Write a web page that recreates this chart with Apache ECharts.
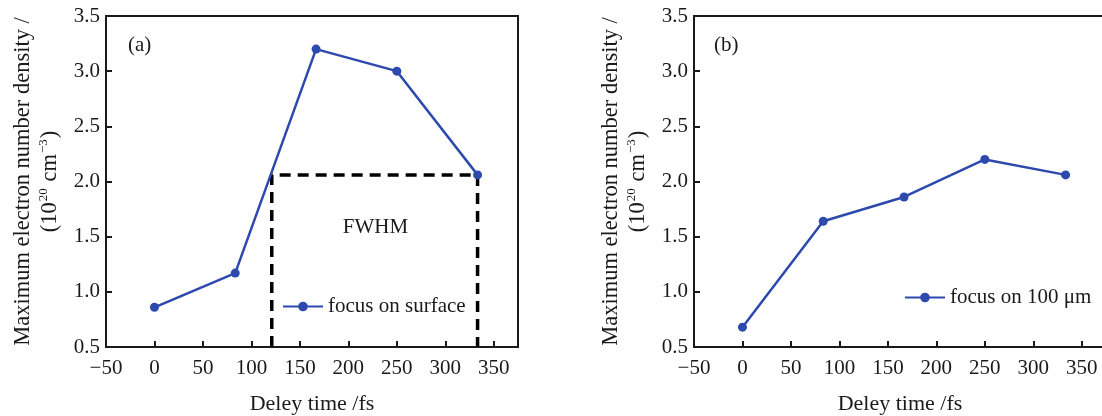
<!DOCTYPE html>
<html>
<head>
<meta charset="utf-8">
<script src="https://cdn.jsdelivr.net/npm/echarts@6/dist/echarts.min.js"></script>
<style>
    html, body { margin: 0; padding: 0; background: #fff; }
    #chart { width: 1102px; height: 416px; }
</style>
</head>
<body>
<div id="chart"></div>
<script>
// delay times (fs) shared by both panels
const delayTimes = [0, 83.3, 166.7, 250, 333.3];
// (a) focus on surface
const surfaceDensity = [0.86, 1.17, 3.2, 3.0, 2.06];
// (b) focus on 100 um
const depthDensity = [0.68, 1.64, 1.86, 2.2, 2.06];
// FWHM box in panel (a): start / end delay and half-max level
const fwhmStart = 121;
const fwhmEnd = 333.3;
const fwhmLevel = 2.06;
const fwhmLabelAt = [228, 1.58];

const seriesNames = ['focus on surface', 'focus on 100 μm'];
const panelLabels = ['(a)', '(b)'];

const font = 'Liberation Serif, Times New Roman, serif';
const ink = '#1a1a1a';
const blue = '#2d49ae';

const chart = echarts.init(document.getElementById('chart'));

const xAxisFor = gridIndex => ({
    type: 'value',
    gridIndex,
    min: -50,
    max: 375,
    interval: 50,
    name: 'Deley time /fs',
    nameLocation: 'middle',
    nameGap: 46,
    nameTextStyle: { fontFamily: font, fontSize: 22, color: ink },
    splitLine: { show: false },
    axisLine: { onZero: false, lineStyle: { color: ink, width: 2 } },
    axisTick: { inside: true, length: 6, lineStyle: { color: ink, width: 2 } },
    axisLabel: {
        showMaxLabel: false,
        margin: 11,
        fontFamily: font,
        fontSize: 21,
        color: ink,
        formatter: v => String(v).replace('-', '\u2212')
    }
});

// second line of the y name carries superscripts, done with rich text
const yAxisFor = gridIndex => ({
    type: 'value',
    gridIndex,
    min: 0.5,
    max: 3.5,
    interval: 0.5,
    name: 'Maximum electron number density /\n{n|(10}{s|20}{n| cm}{s|\u22123}{n|)}',
    nameLocation: 'middle',
    nameGap: 42,
    nameTextStyle: {
        fontFamily: font,
        fontSize: 22.5,
        color: ink,
        lineHeight: 27,
        rich: {
            n: { fontFamily: font, fontSize: 22.5, color: ink, lineHeight: 27 },
            s: { fontFamily: font, fontSize: 13, color: ink, lineHeight: 27, verticalAlign: 'top', padding: [0, 1, 0, 1] }
        }
    },
    splitLine: { show: false },
    axisLine: { onZero: false, lineStyle: { color: ink, width: 2 } },
    axisTick: { inside: true, length: 6, lineStyle: { color: ink, width: 2 } },
    axisLabel: {
        margin: 6,
        fontFamily: font,
        fontSize: 21,
        color: ink,
        formatter: v => v.toFixed(1)
    }
});

const dataLine = (name, values, index) => ({
    name,
    type: 'line',
    xAxisIndex: index,
    yAxisIndex: index,
    data: delayTimes.map((t, i) => [t, values[i]]),
    symbol: 'circle',
    symbolSize: 9,
    itemStyle: { color: blue },
    lineStyle: { color: blue, width: 2.5 },
    z: 3
});

const legendFor = (name, left, top) => ({
    data: [name],
    left,
    top,
    padding: 0,
    itemWidth: 40,
    itemHeight: 12,
    textStyle: { fontFamily: font, fontSize: 21, color: ink }
});

const option = {
    animation: false,
    backgroundColor: '#fff',
    textStyle: { fontFamily: font },
    title: panelLabels.map((text, i) => ({
        text,
        left: i === 0 ? 123 : 709,
        top: 30,
        textStyle: { fontFamily: font, fontSize: 21, fontWeight: 'normal', color: ink }
    })),
    // panel (b) runs past the right edge of the picture, as in the source figure
    grid: [
        { left: 106, top: 16, width: 412, height: 331, outerBoundsMode: 'none', show: true, borderColor: ink, borderWidth: 2 },
        { left: 694, top: 16, width: 412, height: 331, outerBoundsMode: 'none', show: true, borderColor: ink, borderWidth: 2 }
    ],
    legend: [
        legendFor(seriesNames[0], 282, 296),
        legendFor(seriesNames[1], 904, 287)
    ],
    xAxis: [xAxisFor(0), xAxisFor(1)],
    yAxis: [yAxisFor(0), yAxisFor(1)],
    series: [
        // dashed FWHM outline
        {
            name: 'FWHM',
            type: 'line',
            xAxisIndex: 0,
            yAxisIndex: 0,
            data: [[fwhmStart, 0.5], [fwhmStart, fwhmLevel], [fwhmEnd, fwhmLevel], [fwhmEnd, 0.5]],
            symbol: 'none',
            lineStyle: { color: '#000', width: 3.5, type: [11, 7] },
            z: 2
        },
        {
            name: 'FWHM label',
            type: 'scatter',
            xAxisIndex: 0,
            yAxisIndex: 0,
            data: [fwhmLabelAt],
            symbolSize: 1,
            itemStyle: { color: 'transparent' },
            label: {
                show: true,
                position: 'inside',
                formatter: 'FWHM',
                fontFamily: font,
                fontSize: 21,
                color: ink,
                opacity: 1
            },
            silent: true
        },
        dataLine(seriesNames[0], surfaceDensity, 0),
        dataLine(seriesNames[1], depthDensity, 1)
    ]
};

chart.setOption(option);
</script>
</body>
</html>
